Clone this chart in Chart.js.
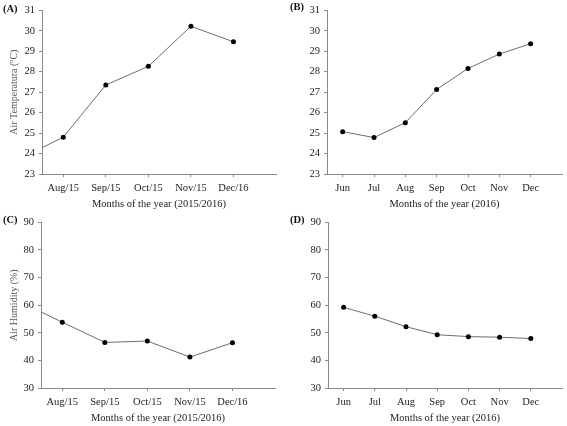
<!DOCTYPE html>
<html>
<head>
<meta charset="utf-8">
<script src="https://cdn.jsdelivr.net/npm/chart.js@4"></script>
<style>
  html, body { margin: 0; padding: 0; background: #fff; }
  #wrap { position: relative; width: 567px; height: 426px; }
  canvas { position: absolute; }
</style>
</head>
<body>
<div id="wrap">
  <canvas id="chartA" width="283" height="212" style="left:0;top:0"></canvas>
  <canvas id="chartB" width="284" height="212" style="left:283px;top:0"></canvas>
  <canvas id="chartC" width="283" height="214" style="left:0;top:212px"></canvas>
  <canvas id="chartD" width="284" height="214" style="left:283px;top:212px"></canvas>
</div>
<script>
// months shown on each x axis
const months1516 = ["Aug/15", "Sep/15", "Oct/15", "Nov/15", "Dec/16"];
const months2016 = ["Jun", "Jul", "Aug", "Sep", "Oct", "Nov", "Dec"];

// air temperature (°C)
const tempA = [24.8, 27.35, 28.26, 30.22, 29.46];
const tempB = [25.07, 24.78, 25.51, 27.13, 28.16, 28.86, 29.37];
// value of the month before Aug/15 (line enters from the left edge)
const tempAPrev = 23.77;

// air humidity (%)
const humC = [53.85, 46.5, 47.0, 41.2, 46.4];
const humD = [59.2, 56.0, 52.2, 49.3, 48.6, 48.4, 47.9];
const humCPrev = 61.2;

const tempTicks = [23, 24, 25, 26, 27, 28, 29, 30, 31];
const humTicks = [30, 40, 50, 60, 70, 80, 90];

const serif = "'Liberation Serif', 'Times New Roman', serif";
Chart.defaults.font.family = serif;
Chart.defaults.font.size = 10.5;
Chart.defaults.color = "#222";

function points(values, prev) {
  const pts = values.map((v, i) => ({ x: i, y: v }));
  if (prev !== undefined) pts.unshift({ x: -1, y: prev });
  return pts;
}

const panelLabel = {
  id: "panelLabel",
  afterDraw(chart, args, opts) {
    const ctx = chart.ctx;
    ctx.save();
    ctx.font = "bold 10.5px " + serif;
    ctx.fillStyle = "#111";
    ctx.textBaseline = "middle";
    ctx.fillText(opts.text, opts.x, opts.y);
    ctx.restore();
  }
};

function makeChart(id, cfg) {
  const yTickValues = cfg.yTicks;
  new Chart(document.getElementById(id), {
    type: "line",
    data: {
      datasets: [{
        data: points(cfg.values, cfg.prev),
        borderColor: "#6e6e6e",
        borderWidth: 1,
        pointRadius: 2.5,
        pointBackgroundColor: "#000",
        pointBorderColor: "#000",
        pointBorderWidth: 0,
        tension: 0
      }]
    },
    options: {
      responsive: false,
      animation: false,
      devicePixelRatio: 1,
      layout: { padding: cfg.padding },
      plugins: {
        legend: { display: false },
        tooltip: { enabled: false },
        panelLabel: cfg.label
      },
      scales: {
        x: {
          type: "linear",
          min: -0.5,
          max: cfg.xMax,
          afterBuildTicks: s => { s.ticks = cfg.labels.map((_, i) => ({ value: i })); },
          afterFit: s => { s.height = cfg.xHeight; },
          ticks: {
            callback: v => cfg.labels[v],
            padding: 5,
            maxRotation: 0,
            autoSkip: false
          },
          grid: { drawOnChartArea: false, tickLength: 3, color: "#8a8a8a" },
          border: { color: "#8a8a8a", width: 1 },
          title: {
            display: true,
            text: cfg.xTitle,
            color: "#222",
            font: { size: 10.5 },
            padding: { top: 0, bottom: 1 }
          }
        },
        y: {
          min: yTickValues[0],
          max: yTickValues[yTickValues.length - 1],
          afterBuildTicks: s => { s.ticks = yTickValues.map(v => ({ value: v })); },
          afterFit: s => { s.width = cfg.yWidth; },
          ticks: { padding: 4 },
          grid: { drawOnChartArea: false, tickLength: 3, color: "#8a8a8a" },
          border: { color: "#8a8a8a", width: 1 },
          title: {
            display: !!cfg.yTitle,
            text: cfg.yTitle || "",
            color: "#555",
            font: { size: 10 },
            padding: { top: 8, bottom: 0 }
          }
        }
      }
    },
    plugins: [panelLabel]
  });
}

makeChart("chartA", {
  labels: months1516, values: tempA, prev: tempAPrev, yTicks: tempTicks,
  xMax: 5, yWidth: 42, xHeight: 38,
  padding: { top: 7, right: 7, left: 0, bottom: 0 },
  xTitle: "Months of the year (2015/2016)", yTitle: "Air Temperatura (ºC)",
  label: { text: "(A)", x: 3, y: 9 }
});

makeChart("chartB", {
  labels: months2016, values: tempB, yTicks: tempTicks,
  xMax: 7, yWidth: 44, xHeight: 38,
  padding: { top: 6, right: 5, left: 0, bottom: 0 },
  xTitle: "Months of the year (2016)",
  label: { text: "(B)", x: 7, y: 7 }
});

makeChart("chartC", {
  labels: months1516, values: humC, prev: humCPrev, yTicks: humTicks,
  xMax: 5, yWidth: 41, xHeight: 38,
  padding: { top: 7, right: 8, left: 0, bottom: 0 },
  xTitle: "Months of the year (2015/2016)", yTitle: "Air Humidity (%)",
  label: { text: "(C)", x: 3, y: 8 }
});

makeChart("chartD", {
  labels: months2016, values: humD, yTicks: humTicks,
  xMax: 7, yWidth: 45, xHeight: 38,
  padding: { top: 6, right: 5, left: 0, bottom: 0 },
  xTitle: "Months of the year (2016)",
  label: { text: "(D)", x: 7, y: 8 }
});
</script>
</body>
</html>
